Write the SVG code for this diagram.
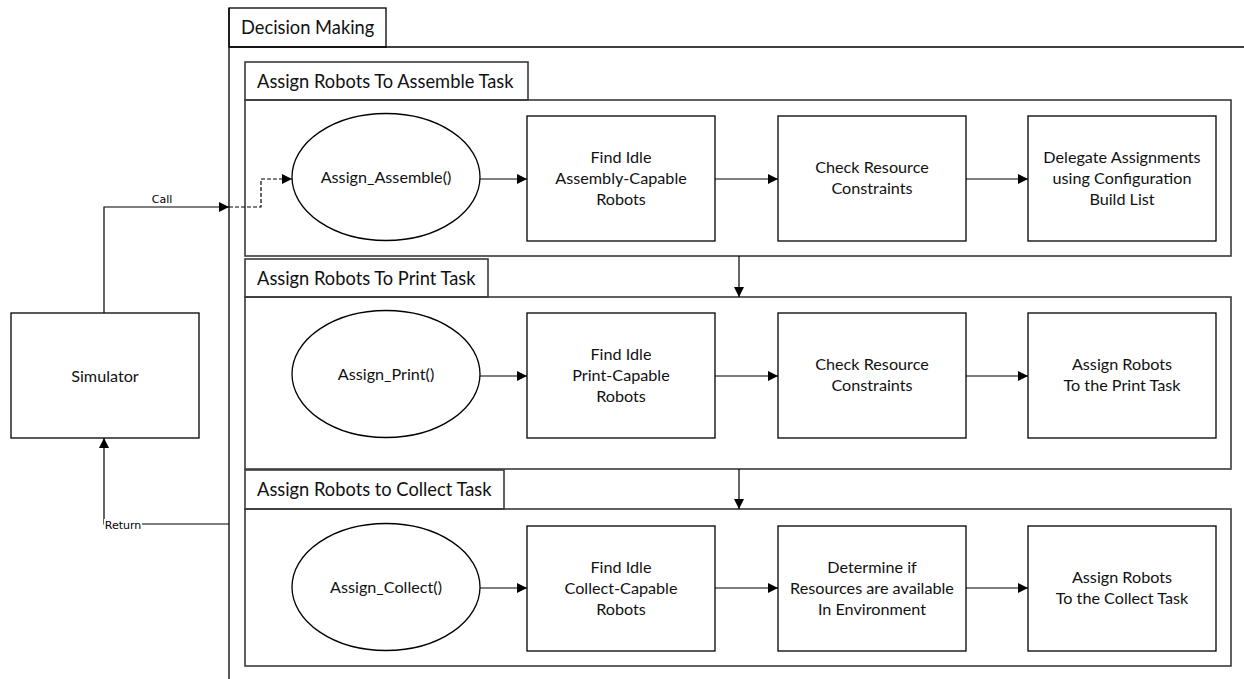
<svg xmlns="http://www.w3.org/2000/svg" width="1244" height="679" viewBox="0 0 1244 679">
  <defs>
    <marker id="arrow" viewBox="0 0 10 10" refX="10" refY="5" markerWidth="10" markerHeight="10" markerUnits="userSpaceOnUse" orient="auto">
      <path d="M0,0 L10,5 L0,10 Z" fill="#000"/>
    </marker>
    <style>
      .frame { fill: none; stroke: #3a3a3a; stroke-width: 1.6; }
      .outer { fill: none; stroke: #000; stroke-width: 1.3; }
      .node { fill: #fff; stroke: #000; stroke-width: 1.3; }
      .tab { font-family: Lato, "Liberation Sans", sans-serif; font-size: 18.3px; fill: #111; }
      .label { font-family: Lato, "Liberation Sans", sans-serif; font-size: 16.2px; fill: #111; text-anchor: middle; }
      .edge { fill: none; stroke: #000; stroke-width: 1.2; }
      .dashed { stroke-dasharray: 4 2; }
      .elabel { font-family: "DejaVu Sans", sans-serif; font-size: 11px; fill: #000; text-anchor: middle; }
    </style>
  </defs>
  <rect width="1244" height="679" fill="#fff"/>

  <!-- outer swimlane container -->
  <g id="decision-making">
    <rect class="outer" x="229" y="8" width="157" height="39" fill="#fff"/>
    <path class="outer" d="M229,47 H1244 M229,8 V679"/>
    <text class="tab" x="241" y="34">Decision Making</text>
  </g>

  <!-- sub-process frames -->
  <g id="frame-assemble">
    <rect class="frame" x="245" y="62" width="283" height="38"/>
    <rect class="frame" x="245" y="100" width="986" height="156"/>
    <text class="tab" x="257" y="88">Assign Robots To Assemble Task</text>
  </g>
  <g id="frame-print">
    <rect class="frame" x="245" y="259" width="243" height="38"/>
    <rect class="frame" x="245" y="297" width="986" height="172"/>
    <text class="tab" x="257" y="285">Assign Robots To Print Task</text>
  </g>
  <g id="frame-collect">
    <rect class="frame" x="245" y="470" width="259" height="39"/>
    <rect class="frame" x="245" y="509" width="986" height="157"/>
    <text class="tab" x="257" y="496">Assign Robots to Collect Task</text>
  </g>

  <!-- simulator -->
  <g id="simulator">
    <rect class="node" x="11" y="313" width="188" height="125"/>
    <text class="label" x="105" y="382">Simulator</text>
  </g>

  <!-- row 1 -->
  <g id="assign-assemble">
    <ellipse class="node" cx="386" cy="177" rx="94" ry="63.5"/>
    <text class="label" x="386" y="183">Assign_Assemble()</text>
  </g>
  <g id="find-assembly">
    <rect class="node" x="527" y="116" width="188" height="125"/>
    <text class="label" x="621" y="163">Find Idle</text>
    <text class="label" x="621" y="184">Assembly-Capable</text>
    <text class="label" x="621" y="205">Robots</text>
  </g>
  <g id="check-assemble">
    <rect class="node" x="778" y="116" width="188" height="125"/>
    <text class="label" x="872" y="173">Check Resource</text>
    <text class="label" x="872" y="194">Constraints</text>
  </g>
  <g id="delegate">
    <rect class="node" x="1028" y="116" width="188" height="125"/>
    <text class="label" x="1122" y="163">Delegate Assignments</text>
    <text class="label" x="1122" y="184">using Configuration</text>
    <text class="label" x="1122" y="205">Build List</text>
  </g>

  <!-- row 2 -->
  <g id="assign-print">
    <ellipse class="node" cx="386" cy="374" rx="94" ry="63.5"/>
    <text class="label" x="386" y="380">Assign_Print()</text>
  </g>
  <g id="find-print">
    <rect class="node" x="527" y="313" width="188" height="125"/>
    <text class="label" x="621" y="360">Find Idle</text>
    <text class="label" x="621" y="381">Print-Capable</text>
    <text class="label" x="621" y="402">Robots</text>
  </g>
  <g id="check-print">
    <rect class="node" x="778" y="313" width="188" height="125"/>
    <text class="label" x="872" y="370">Check Resource</text>
    <text class="label" x="872" y="391">Constraints</text>
  </g>
  <g id="assign-print-task">
    <rect class="node" x="1028" y="313" width="188" height="125"/>
    <text class="label" x="1122" y="370">Assign Robots</text>
    <text class="label" x="1122" y="391">To the Print Task</text>
  </g>

  <!-- row 3 -->
  <g id="assign-collect">
    <ellipse class="node" cx="386" cy="587" rx="94" ry="63.5"/>
    <text class="label" x="386" y="593">Assign_Collect()</text>
  </g>
  <g id="find-collect">
    <rect class="node" x="527" y="526" width="188" height="125"/>
    <text class="label" x="621" y="573">Find Idle</text>
    <text class="label" x="621" y="594">Collect-Capable</text>
    <text class="label" x="621" y="615">Robots</text>
  </g>
  <g id="determine-resources">
    <rect class="node" x="778" y="526" width="188" height="125"/>
    <text class="label" x="872" y="573">Determine if</text>
    <text class="label" x="872" y="594">Resources are available</text>
    <text class="label" x="872" y="615">In Environment</text>
  </g>
  <g id="assign-collect-task">
    <rect class="node" x="1028" y="526" width="188" height="125"/>
    <text class="label" x="1122" y="583">Assign Robots</text>
    <text class="label" x="1122" y="604">To the Collect Task</text>
  </g>

  <!-- connectors -->
  <g id="connectors">
    <path class="edge" marker-end="url(#arrow)" d="M104,313 V207 H229"/>
    <path class="edge dashed" marker-end="url(#arrow)" d="M229,207 H261 V179 H292"/>
    <path class="edge" marker-end="url(#arrow)" d="M229,524 H104 V438"/>

    <path class="edge" marker-end="url(#arrow)" d="M480,179 H527"/>
    <path class="edge" marker-end="url(#arrow)" d="M715,179 H778"/>
    <path class="edge" marker-end="url(#arrow)" d="M966,179 H1028"/>

    <path class="edge" marker-end="url(#arrow)" d="M480,376 H527"/>
    <path class="edge" marker-end="url(#arrow)" d="M715,376 H778"/>
    <path class="edge" marker-end="url(#arrow)" d="M966,376 H1028"/>

    <path class="edge" marker-end="url(#arrow)" d="M480,588 H527"/>
    <path class="edge" marker-end="url(#arrow)" d="M715,588 H778"/>
    <path class="edge" marker-end="url(#arrow)" d="M966,588 H1028"/>

    <path class="edge" marker-end="url(#arrow)" d="M739,256 V297"/>
    <path class="edge" marker-end="url(#arrow)" d="M739,469 V509"/>

    <rect x="151" y="194" width="22" height="11" fill="#fff"/>
    <text class="elabel" x="162" y="203">Call</text>
    <rect x="104" y="519" width="38" height="11" fill="#fff"/>
    <text class="elabel" x="123" y="529">Return</text>
  </g>
</svg>
